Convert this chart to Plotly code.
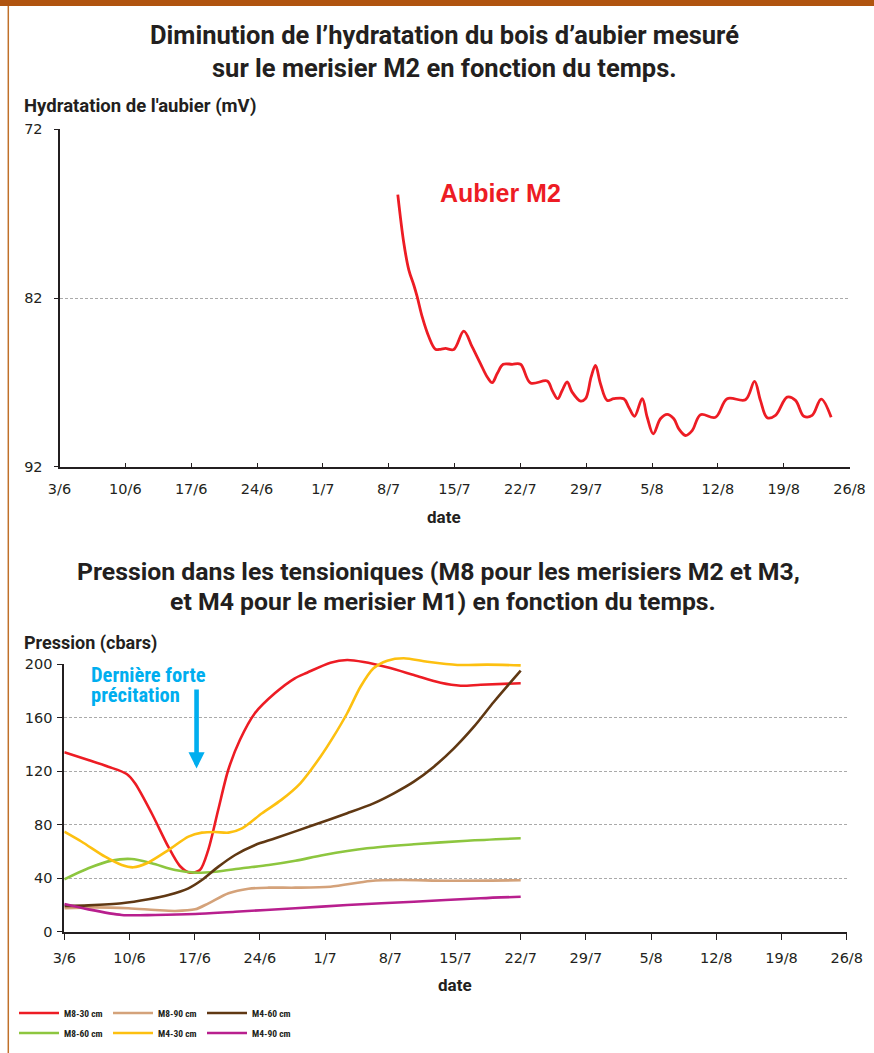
import plotly.graph_objects as go

W, H = 874, 1053

# ---------------- data ----------------
tick_days = [0, 7, 14, 21, 28, 35, 42, 49, 56, 63, 70, 77, 84]
tick_labels = ["3/6", "10/6", "17/6", "24/6", "1/7", "8/7", "15/7", "22/7",
               "29/7", "5/8", "12/8", "19/8", "26/8"]

# Hydratation de l'aubier, merisier M2 (days since 3/6, mV)
hyd_days = [35.97, 36.61, 37.14, 37.67, 38.03, 38.56, 39.27, 39.98, 40.51, 41.04,
            41.92, 42.99, 43.88, 44.76, 45.48, 46.01, 46.54, 47.18, 48.13, 49.02,
            50.08, 51.86, 52.39, 52.98, 53.45, 53.98, 54.51, 55.40, 55.93, 56.53,
            56.99, 57.52, 58.24, 58.94, 60.00, 60.53, 61.14, 61.96, 62.49, 63.13,
            63.90, 64.61, 65.32, 65.85, 66.56, 67.27, 68.16, 69.75, 70.99, 72.94,
            73.90, 74.53, 75.25, 76.13, 77.37, 78.26, 79.14, 80.03, 80.99, 82.05]
hyd_mv = [75.87, 78.74, 80.33, 81.23, 81.92, 83.11, 84.30, 85.04, 85.04, 84.99,
          85.05, 83.96, 84.90, 85.89, 86.68, 87.02, 86.48, 85.93, 85.93, 85.93,
          87.04, 86.92, 87.48, 87.97, 87.48, 86.98, 87.58, 88.11, 87.97, 86.68,
          85.99, 87.08, 88.07, 87.97, 87.97, 88.47, 89.01, 87.97, 89.07, 90.05,
          89.16, 88.90, 89.16, 89.76, 90.15, 89.86, 88.92, 89.07, 87.97, 88.03,
          86.94, 88.07, 89.10, 88.96, 87.88, 88.07, 89.01, 88.96, 87.99, 89.07]

# Pression dans les tensiomètres (days since 3/6, cbars)
m8_30_days = [0, 2.58, 4.72, 6.7, 7.59, 9.38, 11.16, 12.41, 13.49, 14.56, 15.45, 16.52,
              17.6, 18.85, 20.46, 22.6, 24.75, 26.06, 28.57, 30.37, 32.15, 34.67, 37.53,
              40.4, 42.55, 44.7, 49]
m8_30_vals = [134.0, 128.3, 123.3, 117.8, 110.9, 88.5, 63.5, 49.1, 44.1, 46.1, 61.0, 90.9,
              120.8, 143.2, 163.2, 178.1, 189.3, 193.5, 201.0, 203.0, 201.5, 197.5, 191.8,
              186.0, 183.8, 184.5, 185.6]

m8_60_days = [0, 2.58, 5.08, 7.23, 9.38, 11.9, 14.05, 16.2, 19.08, 21.94, 24.8, 27.85,
              32.5, 37.53, 43.27, 49]
m8_60_vals = [39.1, 47.4, 53.1, 54.3, 51.1, 46.1, 44.1, 44.8, 47.4, 49.8, 53.0, 57.3,
              62.3, 65.3, 68.0, 69.8]

m8_90_days = [0, 3.3, 6.88, 9.75, 11.9, 14.05, 15.48, 17.63, 19.78, 21.94, 24.8, 28.57,
              32.87, 36.1, 41.1, 49]
m8_90_vals = [17.5, 18.2, 17.5, 16.2, 15.5, 16.7, 21.2, 28.7, 32.1, 32.9, 32.9, 33.6,
              37.9, 38.6, 38.1, 38.4]

m4_30_days = [0, 1.87, 4.38, 6.17, 7.42, 8.86, 11.18, 13.33, 14.77, 16.2, 17.63, 19.08,
              21.23, 23.3, 25.34, 27.5, 28.9, 30.37, 31.8, 33.2, 34.67, 36.45, 38.97,
              42.2, 45.42, 49]
m4_30_vals = [74.7, 67.2, 56.0, 49.8, 48.1, 51.1, 61.0, 71.0, 74.0, 74.5, 74.0, 77.2,
              88.5, 98.5, 110.9, 130.7, 145.7, 163.2, 183.0, 196.8, 202.5, 204.3, 201.7,
              199.3, 199.5, 199.0]

m4_60_days = [0, 2.58, 6.17, 9.03, 11.18, 13.33, 14.77, 16.55, 18.34, 20.5, 22.65, 26.77,
              30.37, 33.2, 35.38, 37.53, 39.68, 41.83, 43.98, 46.13, 49]
m4_60_vals = [19.2, 19.7, 21.2, 24.2, 27.4, 32.4, 38.6, 48.6, 57.3, 64.8, 69.8, 79.7,
              88.5, 95.9, 103.4, 112.1, 123.3, 137.0, 153.2, 171.8, 195.0]

m4_90_days = [0, 2.58, 6.17, 9.75, 14.05, 18.34, 24.8, 30.37, 37.53, 44.7, 49]
m4_90_vals = [20.7, 16.7, 12.5, 12.5, 13.2, 14.9, 17.5, 19.9, 22.4, 25.0, 26.1]

# arrow annotation (date, pression)
rain_day = 14.2
rain_arrow_tip = 122.0
rain_arrow_tail = 182.0

# ---------------- style ----------------
NARROW = "'Liberation Sans Narrow', 'Roboto Condensed', 'DejaVu Sans Condensed', 'Liberation Sans', sans-serif"
BOLDF = "Roboto, 'Liberation Sans', Arial, sans-serif"
TICKF = "'DejaVu Sans', Verdana, sans-serif"
DARK = "#231F20"
RED = "#ED1C24"
series = [
    ("M8-30 cm", m8_30_days, m8_30_vals, "#ED1C24", "legend"),
    ("M8-60 cm", m8_60_days, m8_60_vals, "#8DC63F", "legend2"),
    ("M8-90 cm", m8_90_days, m8_90_vals, "#D4A27A", "legend"),
    ("M4-30 cm", m4_30_days, m4_30_vals, "#FDC010", "legend2"),
    ("M4-60 cm", m4_60_days, m4_60_vals, "#603813", "legend"),
    ("M4-90 cm", m4_90_days, m4_90_vals, "#B81F8E", "legend2"),
]


def px(x):
    return x / W


def py(y):
    return 1 - y / H


fig = go.Figure()

fig.add_trace(go.Scatter(
    x=hyd_days, y=hyd_mv, mode="lines", name="Aubier M2",
    line=dict(color=RED, width=2.8, shape="spline", smoothing=1.0),
    xaxis="x", yaxis="y", showlegend=False, hoverinfo="skip"))

# pressure curves live on a hidden y-axis with the same scale as the visible one,
# but with a little head-room so peaks just above 200 are not clipped
for name, d, v, c, lg in series:
    fig.add_trace(go.Scatter(
        x=d, y=v, mode="lines", name=name,
        line=dict(color=c, width=2.6, shape="spline", smoothing=0.8),
        xaxis="x2", yaxis="y3", legend=lg, hoverinfo="skip"))

axis_common = dict(
    showline=True, linecolor=DARK, linewidth=2, zeroline=False, automargin=False,
    tickfont=dict(family=TICKF, size=14.5, color=DARK),
    tickcolor=DARK, tickwidth=1.3,
)

Y2_BOTTOM_PX, Y2_TOP_PX = 931.7, 664.0
y2_px_per_unit = (Y2_BOTTOM_PX - Y2_TOP_PX) / 200
Y3_TOP = 208

LEG_FONT = dict(family=NARROW, size=9.5, color=DARK, weight="bold")

fig.update_layout(
    width=W, height=H,
    margin=dict(l=0, r=0, t=0, b=0, pad=0, autoexpand=False),
    paper_bgcolor="white", plot_bgcolor="rgba(0,0,0,0)",
    xaxis=dict(domain=[px(59.5), px(849.5)], range=[0, 84], anchor="y",
               tickmode="array", tickvals=tick_days, ticktext=tick_labels,
               ticks="inside", ticklen=4, showgrid=False,
               ticklabelstandoff=8, **axis_common),
    yaxis=dict(domain=[py(466.7), py(129.3)], range=[92, 72], anchor="x",
               tickmode="array", tickvals=[72, 82, 92],
               ticks="outside", ticklen=4, showgrid=True,
               gridcolor="#AAAAAA", gridwidth=1, griddash="3px,2px",
               ticklabelstandoff=8, **axis_common),
    xaxis2=dict(domain=[px(64.3), px(846.7)], range=[0, 84], anchor="y2",
                tickmode="array", tickvals=tick_days, ticktext=tick_labels,
                ticks="outside", ticklen=6, showgrid=False,
                ticklabelstandoff=6, **axis_common),
    yaxis2=dict(domain=[py(Y2_BOTTOM_PX), py(Y2_TOP_PX)], range=[0, 200],
                anchor="x2",
                tickmode="array", tickvals=[0, 40, 80, 120, 160, 200],
                ticks="outside", ticklen=5, showgrid=True,
                gridcolor="#AAAAAA", gridwidth=1, griddash="3px,2px",
                ticklabelstandoff=2, **axis_common),
    yaxis3=dict(domain=[py(Y2_BOTTOM_PX), py(Y2_BOTTOM_PX - Y3_TOP * y2_px_per_unit)],
                range=[0, Y3_TOP], anchor="x2", visible=False, showgrid=False,
                zeroline=False, automargin=False),
    legend=dict(orientation="h", x=px(14), y=py(1013), xanchor="left", yanchor="middle",
                font=LEG_FONT, entrywidth=39, entrywidthmode="pixels", itemwidth=40,
                bgcolor="rgba(0,0,0,0)", traceorder="normal"),
    legend2=dict(orientation="h", x=px(14), y=py(1033), xanchor="left", yanchor="middle",
                 font=LEG_FONT, entrywidth=39, entrywidthmode="pixels", itemwidth=40,
                 bgcolor="rgba(0,0,0,0)", traceorder="normal"),
    showlegend=True,
)

ann = []


def text(t, x, y, size, color=DARK, family=BOLDF, anchor="center", weight="bold"):
    ann.append(dict(text=t, x=px(x), y=py(y), xref="paper", yref="paper",
                    xanchor=anchor, yanchor="middle", showarrow=False,
                    font=dict(family=family, size=size, color=color, weight=weight)))


text("Diminution de l’hydratation du bois d’aubier mesuré", 444, 35, 25.5)
text("sur le merisier M2 en fonction du temps.", 444, 68, 25.5)
text("Hydratation de l'aubier (mV)", 22, 106, 18.5, anchor="left")
text("date", 444, 517, 17)
text("Pression dans les tensioniques (M8 pour les merisiers M2 et M3,", 438, 571, 24.8)
text("et M4 pour le merisier M1) en fonction du temps.", 443, 601, 24.8)
text("Pression (cbars)", 22, 643, 18, anchor="left")
text("date", 455, 985, 17)

ann.append(dict(text="Aubier M2", x=438 / W, y=py(193), xref="paper", yref="paper",
                xanchor="left", yanchor="middle", showarrow=False,
                font=dict(family="'Liberation Sans', Arial, sans-serif", size=25,
                          color=RED, weight="bold")))

CYAN = "#00AEEF"
text("Dernière forte", 89, 675, 20.5, color=CYAN, family=NARROW, anchor="left")
text("précitation", 89, 695, 20.5, color=CYAN, family=NARROW, anchor="left")
ann.append(dict(x=rain_day, y=rain_arrow_tip, xref="x2", yref="y2",
                ax=rain_day, ay=rain_arrow_tail, axref="x2", ayref="y2",
                text="", showarrow=True, arrowhead=2, arrowsize=0.7,
                arrowwidth=4.6, arrowcolor=CYAN, standoff=0))

fig.update_layout(annotations=ann)

fig.update_layout(shapes=[
    dict(type="rect", xref="paper", yref="paper", x0=0, x1=1, y0=py(6), y1=1,
         fillcolor="#B0540F", line=dict(width=0), layer="above"),
    dict(type="line", xref="paper", yref="paper", x0=px(8.3), x1=px(8.3), y0=0, y1=py(6),
         line=dict(color="#C0702A", width=1.5), layer="above"),
])

fig.write_html("out.html", config={"displayModeBar": False},
               post_script="document.body.style.margin='0';document.body.style.padding='0';")
